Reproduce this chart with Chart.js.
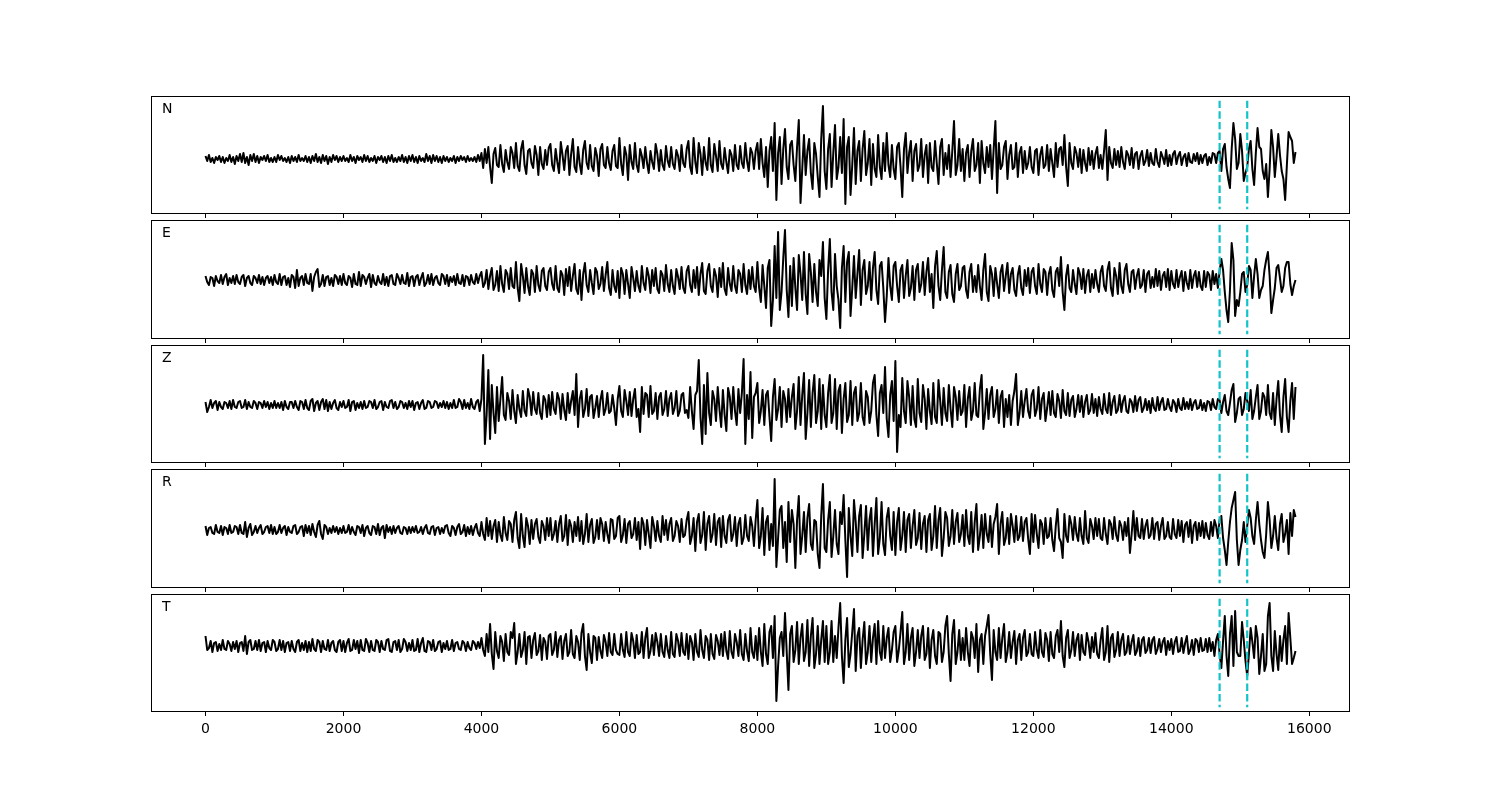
<!DOCTYPE html>
<html>
<head>
<meta charset="utf-8">
<script src="https://cdn.jsdelivr.net/npm/chart.js@4.4.1/dist/chart.umd.min.js"></script>
<style>
  body { margin: 0; background: #fff; }
  #wrap { position: relative; width: 1500px; height: 800px; background: #fff; }
  #wrap canvas { position: absolute; left: 0; }
</style>
</head>
<body>
<div id="wrap"></div>
<script>
// canales y datos (amplitud, una muestra cada 25)
const channels = ['N', 'E', 'Z', 'R', 'T'];
const sampleStep = 25;
const xTicks = [0, 2000, 4000, 6000, 8000, 10000, 12000, 14000, 16000];
const pickTimes = [14700, 15100];

const traceN = [
  3,-2,4,-3,1,-4,2,-1,3,-3, 2,-4,1,-2,4,-3,2,-5,3,-2, 5,-3,6,-4,2,-6,4,-2,5,-3, 3,-4,2,-1,3,-2,4,-3,1,-3,
  2,-3,4,-1,3,-2,1,-3,2,-4, 3,-2,2,-3,4,-2,1,-2,3,-3, 2,-4,3,-2,5,-3,2,-4,4,-2, 3,-5,2,-3,4,-1,3,-3,2,-2,
  3,-2,1,-3,4,-2,2,-4,3,-1, 2,-3,4,-2,3,-3,1,-2,3,-4, 2,-1,3,-3,2,-4,3,-2,4,-3, 1,-3,2,-2,4,-3,2,-4,3,-2,
  4,-3,2,-4,3,-2,1,-3,5,-2, 3,-4,4,-2,3,-3,2,-4,3,-2, 2,-3,1,-2,3,-4,2,-2,3,-1, 2,-3,3,-2,1,-2,2,-3,4,-2,
  6,-9,10,-4,12,-8,-24,5,11,-6, -8,14,-5,-13,9,-3,-10,12,6,-9, 16,-7,-12,10,18,-6,-15,8,10,-4, -9,13,4,-16,12,-5,-10,9,-6,11,
  15,-6,-12,10,-3,-14,17,4,-11,8, 13,-16,5,20,-8,-13,12,-5,-15,9, 18,-4,-10,14,-7,-12,11,3,-17,10, 15,-6,-9,12,-4,-11,8,14,-7,-9,
  21,-5,-16,12,4,-21,14,-3,-10,16, -6,-13,10,3,-9,12,-4,-14,8,-3, -10,15,5,-12,9,-6,-11,13,-2,-8, 12,-5,-10,9,3,-12,14,-4,-8,10,
  18,-8,-15,21,-3,-14,16,5,-16,12, -4,-11,21,-6,-13,15,3,-12,18,-5, -10,11,-3,-14,9,4,-12,14,-6,-10, 13,-4,-9,16,-2,-12,11,6,-10,8,
  16,-10,20,-4,-18,12,-28,8,22,-12, 36,-41,6,22,-25,10,30,-8,-20,14, 18,-6,-22,12,39,-44,-10,24,-16,8, 20,-14,-30,16,5,-18,-38,20,53,-12,
  -30,10,25,-28,6,34,-20,-8,22,-14, 40,-45,12,22,-36,-6,31,-25,8,18, -22,10,28,-16,-4,20,-26,15,-10,-18, 24,-8,-20,16,-12,26,-6,-18,14,-10,
  -20,12,16,-8,-38,10,26,-14,6,18, -22,8,15,-12,-6,20,-18,4,14,-24, 16,-8,-12,18,-4,-25,12,20,-16,6, -10,14,-18,8,38,-16,-6,20,-12,10,
  -22,6,14,-18,8,20,-12,-6,16,-24, 18,-4,-14,12,-8,14,-20,10,38,-34, 16,-10,-6,12,18,-20,4,14,-10,-8, 16,-18,6,12,-14,8,-10,-4,12,-8,
  -14,8,10,-16,4,12,-9,-6,14,-12, 10,-4,-18,16,-8,10,12,-6,24,-8, -27,16,-4,-10,12,6,-8,10,-14,9, -4,-12,11,-6,8,-10,5,12,-9,4,
  -10,8,29,-21,12,-4,-9,10,-6,8, -8,12,-3,-10,8,4,-6,11,-9,5, 7,-10,3,8,-6,-2,9,-7,6,-4, -6,10,-3,-8,7,2,-5,9,-7,4,
  -6,5,8,-5,3,7,-6,2,5,-7, 6,-3,-4,5,-2,6,-5,4,-4,3, 5,-6,2,-4,6,5,-4,6,8,-12, 10,15,-8,-20,-29,10,36,20,-10,-4,
  25,8,-22,-14,-8,10,18,-10,-26,6, 31,12,10,-12,-20,-5,-38,-10,29,12, -18,2,25,4,-12,-20,-41,-6,27,22, 18,-4,7
];

const traceE = [
  4,-2,-5,3,2,-6,4,-1,-3,5, -4,3,6,-5,2,-3,4,-4,5,-2, -4,3,5,-6,2,4,-3,-5,4,2, -3,5,-4,3,-5,2,4,-3,3,-5,
  5,-2,-4,6,-5,3,4,-5,2,-7, 5,3,-8,10,-6,2,4,-5,6,-3, -4,6,-11,3,8,11,-7,-4,5,-6, 3,4,-5,2,-6,5,3,-4,4,-5,
  6,-3,-5,4,2,-7,6,-4,-5,8, -6,5,3,-4,2,6,-7,5,-3,-5, 4,-2,-4,6,-5,3,-6,4,5,-4, -5,6,2,-4,5,-3,-4,7,-6,3,
  4,-6,3,5,-5,2,7,-6,-3,5, -4,6,-5,2,4,-3,-5,6,4,-4, 5,-6,3,-2,4,-5,6,-3,-4,5, -6,4,3,-5,5,-2,-4,6,-3,4,
  8,-7,-3,10,-9,4,12,-10,-5,9, -11,14,-4,-12,10,6,-9,12,-6,-8, 18,-8,-21,16,4,-13,12,-6,-15,10, 6,-12,14,-5,-11,9,12,-6,-10,8,
  12,-4,-10,14,-8,-12,9,5,-15,11, -6,13,-11,4,16,-9,-14,10,-20,6, 17,-5,-12,10,-3,-14,12,8,-9,-4, 13,-11,5,18,-8,-15,10,-6,-12,9,
  -18,12,6,-14,10,-4,-18,13,2,-11, 9,-6,-12,14,-3,-10,12,4,-13,10, -6,12,-9,-13,9,5,-11,15,-4,-12, 10,-6,-14,11,3,-9,13,-8,-13,9,
  14,-5,-12,10,-8,13,-15,6,17,-11, -14,9,16,-6,-12,11,4,-17,12,-7, 17,-9,-15,12,-4,-11,14,-6,-13,10, 6,-12,16,-5,-14,10,-9,13,-6,-12,
  18,-8,-22,15,-6,-28,12,20,-46,-20, 34,-18,48,-30,-12,22,50,-10,-37,14, -26,22,-8,-30,25,6,-20,28,-14,-34, 26,8,-22,16,-12,-26,20,4,38,-18,
  -39,10,41,-12,-30,26,-6,-20,-48,12, 34,-22,18,28,-36,-8,24,-18,6,30, -25,10,20,-14,-6,18,-20,12,28,-10, -24,14,18,-8,-42,-16,22,-6,-20,14,
  18,-6,-22,10,15,-18,4,20,-16,-8, 14,-20,10,16,-12,-4,18,-15,8,22, -12,6,-28,14,29,-6,-20,10,33,-12, -18,8,15,-14,-22,6,16,-10,-6,12,
  14,-10,-18,8,16,-12,4,-12,15,-6, -20,10,26,-12,-21,14,6,-16,12,-4, -18,8,15,-11,4,17,-13,6,12,-10, -16,5,14,-8,-15,10,-6,12,-13,8,
  12,-6,-14,16,-4,-12,11,8,-15,6, 13,-10,-17,8,12,-6,23,-12,-30,4, 15,-8,-12,10,-4,-14,12,6,-9,11, -13,4,10,-12,6,-8,10,-4,-12,8,
  14,-6,-11,10,18,-8,-16,12,4,-14, 17,-6,-13,10,16,-4,-12,8,10,-9, 4,11,-8,-5,10,-12,6,9,-8,3, -7,11,-6,9,-10,4,8,-7,11,-10,
  9,-4,-8,10,-7,3,9,-11,8,-3, -9,10,-8,4,9,-7,8,-6,-10,9, -7,8,5,-10,9,-4,6,-8,9,21, 10,-12,-30,-42,-10,37,20,-36,-20,-26,
  -12,6,8,-12,-5,14,10,-18,4,21, 6,-18,-10,-6,10,20,28,4,-33,-20, -8,12,15,2,-12,-6,12,18,18,-4, -15,-6,0
];

const traceZ = [
  3,-7,-2,5,-3,2,4,-5,3,-2, -4,3,2,-3,4,-4,5,-2,-3,3, 4,-3,-2,5,-4,3,-2,-3,4,2, -4,3,2,-3,4,-2,3,-4,2,-3,
  4,-3,2,-3,3,-5,4,-2,-4,3, 3,-3,4,-2,-5,4,3,-4,5,-3, -5,4,6,-6,2,4,-5,3,6,-4, 5,-6,3,-4,2,5,-3,-5,3,-2,
  4,-3,-2,5,-6,3,4,-5,2,-3, 3,-4,4,-3,-2,4,3,-3,5,-4, -2,3,4,-5,3,-2,-3,4,5,-3, 3,-4,-2,4,3,-3,2,-4,4,-2,
  4,-5,2,3,-4,2,5,-4,-3,4, 3,-3,-2,4,3,-3,2,-2,4,-3, 3,-4,2,-3,5,-3,-2,6,3,-4, 5,-3,2,-4,6,-2,-4,3,5,-6,
  6,50,-39,-10,35,-34,20,-8,-28,18, -16,6,28,-10,-15,12,4,-14,15,-6, -18,10,-4,-12,14,-6,-11,16,8,-10, 13,-4,-9,12,-8,-14,9,5,-12,10,
  -10,13,-4,-9,12,6,-14,11,-5,-15, 12,-8,4,14,-10,31,-22,6,14,-12, -4,16,-11,8,10,-13,-3,9,-12,5, 14,-10,-4,12,-8,-6,10,-3,-20,6,
  19,-6,-12,15,4,-10,13,-11,6,16, -12,-4,-27,18,-9,12,10,-12,19,-9, -6,12,-14,8,12,-10,-4,14,-11,6, 12,-9,-3,14,-11,-6,10,12,-8,-5,
  -13,18,-6,-24,10,14,45,-12,-39,20, -29,32,-8,-20,14,6,-16,18,-4,-22, 15,-10,-26,17,8,-14,18,-6,-20,16, -8,12,46,-39,10,-14,33,-33,8,12,
  22,-18,-6,15,-20,10,14,-12,-36,8, 26,-15,-4,18,-22,14,6,-17,16,-12, 8,21,-24,-6,28,-20,10,32,-34,-8, 25,-22,12,30,-18,-6,26,-24,20,-10,
  -22,12,30,-18,-8,26,-24,14,20,-28, 6,22,-17,-10,24,-20,12,18,-16,-8, 22,-12,-20,14,8,-18,-6,22,30,-10, -31,12,20,-8,38,-14,-32,10,24,-16,
  44,-47,-10,-22,27,-6,-18,24,8,-20, 19,-14,-22,26,-8,-17,20,6,-24,16, -6,-19,22,-12,-18,25,4,-20,17,-8, -16,20,-4,-22,18,8,-15,14,-10,-6,
  20,-22,6,18,-15,-6,22,-10,-12,16, 30,-24,-8,16,-14,10,18,-12,-4,15, -18,8,14,-22,6,-12,10,-20,4,14, 31,-20,-8,14,-12,4,16,-6,-13,10,
  15,-11,-4,18,-14,6,12,-16,-3,13, -10,14,-8,-12,11,4,-13,15,-6,-10, 12,-11,5,9,-12,-4,10,-7,9,-12, 3,10,-9,-5,11,-8,6,-11,8,-4,
  -9,11,-4,-8,12,-10,3,9,-8,-5, 10,-7,4,9,-6,-8,6,3,-7,9, -6,5,8,-7,-3,6,-5,4,-8,7, -3,-6,8,-5,3,7,-5,-4,6,-2,
  -6,5,2,-7,6,-3,-5,7,-4,3, -4,6,-5,2,5,-4,-3,5,-5,2, -6,4,3,-5,6,-2,-4,6,5,-8, 3,10,-6,-10,2,15,21,-17,-8,6,
  8,-10,-4,12,4,-6,15,-14,-6,8, 20,-14,-6,12,8,-10,20,-8,-14,12, -20,6,24,-10,-27,8,26,-12,-27,4, 22,-14,18
];

const traceR = [
  4,-5,2,3,-3,-4,5,-2,-3,4, -5,3,2,-4,5,-3,-2,4,3,-4, 5,-3,-4,8,-7,2,6,-5,-2,4, -3,2,5,-4,-2,3,4,-3,5,-4,
  3,-4,-2,5,-3,2,4,-5,3,-2, -3,4,5,-4,-2,3,4,-6,5,-3, 4,-5,6,-2,-7,5,9,-4,-9,5, 3,-4,2,-3,4,-2,3,-4,2,-3,
  4,-3,-2,5,-4,3,-2,-5,4,3, -3,5,-6,2,4,-3,-5,4,3,-4, 6,-5,2,4,-8,5,-2,3,-4,4, -3,2,4,-3,-4,3,2,-4,3,-3,
  3,-2,4,-3,-2,3,-4,2,5,-3, -4,3,4,-5,2,3,-4,2,-3,4, 5,-3,-6,4,2,-5,3,6,-4,-2, 5,-6,3,-4,4,-5,2,6,-3,-6,
  8,-4,-10,12,-6,9,-9,4,10,-12, 8,-5,-11,13,-3,-10,9,6,-12,10, 18,-8,-18,16,-6,-17,12,4,-14,10, -9,6,11,-7,-13,9,4,-10,12,-6,
  12,-10,-4,9,-12,6,14,-11,-6,15, -15,10,4,-12,8,-6,13,-11,9,-14, -4,16,-12,5,11,-13,-7,10,-9,12, 6,-11,8,-4,-13,11,10,-9,-6,12,
  14,-12,-5,11,-13,6,9,-8,-4,12, -10,8,-19,12,6,-15,10,-4,-18,13, 4,-11,9,-6,-12,14,-5,10,-10,6, 12,-11,-6,9,4,-12,11,-7,-5,10,
  18,-14,-6,12,-21,8,16,-13,-5,18, -20,6,14,-12,-4,16,-15,8,12,-17, 14,-6,-13,10,15,-11,-4,13,-16,6, 12,-14,-8,15,-6,-11,13,4,-16,10,
  30,-18,-6,22,-25,8,14,-20,6,-16, 51,-37,-8,20,24,-18,8,-32,28,-12, 20,6,-38,10,34,-24,-6,18,-22,12, 26,-14,-20,10,8,-24,-38,14,46,-18,
  -22,10,28,-27,-6,20,-14,-24,18,6, 35,-10,-47,22,-6,-26,30,8,-22,14, 25,-28,-4,24,-20,10,22,-26,6,32, -24,-8,28,-14,-25,12,22,-6,-20,18,
  -25,8,22,-20,-6,18,-22,10,16,-18, 4,20,-15,-8,17,-19,6,14,-22,10, 16,-20,-6,24,-18,10,22,-26,-8,18, 12,-16,-6,20,-14,8,17,-12,-4,15,
  -16,20,-6,-14,18,-22,8,26,-20,-6, 15,-18,16,-4,-12,14,-17,6,13,26, -24,6,18,-15,-8,12,-14,16,4,-12, 14,-10,-6,13,-11,8,12,-9,-24,16,
  -12,15,-4,-18,10,6,-14,12,-8,-6, 12,-10,-21,4,21,-8,-12,-28,16,-6, -12,14,6,-10,13,-4,-11,12,-6,-14, 19,-8,-13,11,4,-9,12,-6,11,-8,
  -10,12,-4,-14,10,6,-9,13,-5,-11, 9,4,-10,8,-6,12,-23,-4,19,-10, 12,-6,-8,11,-9,4,10,-8,-5,12, -9,6,8,-10,4,12,-9,-6,8,-7,
  -9,11,-4,-8,10,-6,9,-12,5,8, -7,10,-13,4,8,-10,7,-6,9,-8, 7,-5,-9,8,-6,10,4,-8,10,14, -8,-20,-35,-12,8,22,30,38,-10,-35,
  -20,-10,8,-12,4,20,12,-6,-14,10, 28,6,-10,-22,-28,-4,28,10,-18,-6, 14,-8,-20,6,16,-12,-4,10,-24,17, -6,20,13
];

const traceT = [
  10,-4,-2,5,-6,3,4,-5,2,-4, 6,-3,-4,5,2,-5,4,-3,5,-6, 3,4,-5,10,-8,4,6,-4,-3,5, -4,6,-5,3,4,-6,5,-2,-4,6,
  4,-5,-3,6,-4,5,-6,3,4,-5, 5,-3,-6,4,6,-5,3,-4,5,-6, 4,-5,7,-3,-5,6,4,-6,5,-3, -4,6,-5,3,5,-4,-6,4,6,-5,
  5,-6,3,7,-5,-4,6,-3,5,-7, 6,-4,-5,7,3,-6,5,-4,-5,6, 4,-6,5,-3,-4,6,7,-5,-6,4, 5,-4,6,-6,-3,7,4,-5,3,-4,
  6,-5,-4,7,-6,3,8,-5,-6,5, 4,-4,6,-5,-3,4,5,-6,3,-3, 5,-4,-3,6,-5,3,4,-3,-4,5, 3,-5,4,-2,-4,5,3,-3,4,-2,
  8,-4,-10,12,-6,22,-8,-23,14,-5, -12,10,4,-15,12,-6,-9,14,8,23, -18,-6,12,-11,-4,14,-18,9,10,-12, 6,13,-9,-5,11,-14,8,4,-13,10,
  12,-9,-4,14,-11,6,10,-13,5,12, -10,-6,16,-8,-12,10,4,-14,13,22, -10,-24,12,-6,-17,10,8,-14,9,-5, -12,11,4,-10,13,-6,-9,12,-4,-8,
  -9,12,-4,-11,14,-6,-10,13,5,-12, 11,-8,-6,14,-12,8,18,-12,-5,11, -9,13,4,-10,12,-6,-11,10,-4,-12, 14,-8,-11,12,5,-10,13,-6,-9,12,
  -13,10,4,-14,12,-6,-11,16,-4,-12, 10,6,-14,12,-8,-13,11,5,-9,12, -10,14,-5,-13,15,-6,-12,12,4,-10, 16,-8,-14,12,-5,-15,18,-6,-12,10,
  -14,18,-6,-20,22,-8,-18,14,20,-12, 30,-55,-20,8,14,-10,33,-6,-44,12, 20,-16,-4,24,-18,8,22,-15,-6,26, -20,10,28,-22,-8,20,-18,6,25,-16,
  20,-18,-6,25,-16,10,-12,18,43,-10, -37,6,28,-21,-8,14,37,-25,10,18, -22,6,24,-18,-6,20,-16,8,22,-18, 25,-6,-14,20,-12,8,18,-16,-4,14,
  20,-16,-4,14,34,-18,-6,22,-14,8, 18,-20,-6,16,-12,10,20,-14,-8,18, -22,6,16,-10,-18,14,12,-16,-6,20, 30,-8,-35,12,26,-18,-6,16,-14,8,
  -14,18,-6,-20,14,8,-12,22,-26,6, 12,-18,10,20,31,-8,-34,16,-6,-14, 18,-12,8,22,-16,-6,14,-12,4,15, -18,6,12,-14,8,16,-10,-6,12,-8,
  -10,14,-4,-12,16,-6,-11,13,6,-15, 14,-8,-12,10,16,-6,25,-10,-21,8, 16,-12,-4,14,-10,6,12,-14,11,-6, -9,13,4,-12,9,-6,13,-8,-12,6,
  18,-14,-6,20,-16,8,12,-11,-4,14, -10,6,12,-9,-6,10,-8,4,11,-9, -5,8,-10,6,9,-7,-4,8,-7,6, 9,-8,-3,7,-6,4,8,-9,5,-4,
  7,-8,4,9,-6,-5,8,-7,3,10, -8,-4,6,-9,7,5,-6,8,-5,-4, 7,-6,8,-5,4,-10,6,12,-8,-22, 5,30,-10,-30,12,30,-20,35,-6,-10,
  -10,24,6,-15,-30,-8,18,4,-12,20, 8,-28,-10,12,-25,-18,30,43,-10,-25, 15,-8,-24,10,-15,6,20,-18,33,8, -18,-12,-5
];

const traces = [traceN, traceE, traceZ, traceR, traceT];
const yLimits = [[-55, 63], [-59, 60], [-58, 60], [-58, 61], [-66, 52]];

// marco de cada panel (px)
const panelTops = [96, 220, 345, 469, 594];
const panelBottoms = [214, 339, 463, 588, 712];

const framePlugin = {
    id: 'frame',
    afterDatasetsDraw(chart, args, opts) {
        const { ctx, chartArea: a, scales } = chart;
        const h = a.bottom - a.top;
        ctx.save();
        // lineas de picado
        ctx.strokeStyle = '#12C3C9';
        ctx.lineWidth = 2.2;
        ctx.setLineDash([7.4, 3.2]);
        pickTimes.forEach(t => {
            const px = scales.x.getPixelForValue(t);
            ctx.beginPath();
            ctx.moveTo(px, a.top + h * 0.04);
            ctx.lineTo(px, a.bottom - h * 0.04);
            ctx.stroke();
        });
        ctx.setLineDash([]);
        // caja
        ctx.strokeStyle = '#000';
        ctx.lineWidth = 1;
        ctx.strokeRect(a.left + 0.5, a.top + 0.5, a.right - a.left - 1, h - 1);
        // nombre del canal
        ctx.fillStyle = '#000';
        ctx.font = '14px "DejaVu Sans"';
        ctx.textBaseline = 'alphabetic';
        ctx.fillText(opts.label, a.left + 11, a.top + 17);
        ctx.restore();
    }
};

function drawPanel(i) {
    const last = i === channels.length - 1;
    const canvas = document.createElement('canvas');
    const h = panelBottoms[i] - panelTops[i];
    const bottomSpace = last ? 30 : 6;
    canvas.width = 1500;
    canvas.height = 3 + h + bottomSpace;
    canvas.style.top = (panelTops[i] - 3) + 'px';
    document.getElementById('wrap').appendChild(canvas);

    const data = traces[i].map((v, k) => ({ x: k * sampleStep, y: v }));

    new Chart(canvas.getContext('2d'), {
        type: 'line',
        data: {
            datasets: [{
                data: data,
                borderColor: '#000',
                borderWidth: 2,
                borderJoinStyle: 'round',
                pointRadius: 0,
                fill: false,
                tension: 0
            }]
        },
        options: {
            responsive: false,
            animation: false,
            layout: { padding: { left: 151, right: 150, top: 3, bottom: last ? 0 : 1 } },
            scales: {
                x: {
                    type: 'linear',
                    min: -790,
                    max: 16590,
                    afterBuildTicks: s => { s.ticks = xTicks.map(v => ({ value: v })); },
                    afterFit: s => { s.height = last ? 30 : 5; },
                    grid: { drawOnChartArea: false, drawTicks: true, tickLength: 4, color: '#000', lineWidth: 1 },
                    border: { display: false },
                    ticks: {
                        display: last,
                        color: '#000',
                        font: { family: 'DejaVu Sans', size: 14 },
                        padding: 5,
                        maxRotation: 0,
                        autoSkip: false,
                        callback: v => String(v)
                    }
                },
                y: { display: false, min: yLimits[i][0], max: yLimits[i][1] }
            },
            plugins: {
                legend: { display: false },
                tooltip: { enabled: false },
                frame: { label: channels[i] }
            }
        },
        plugins: [framePlugin]
    });
}

channels.forEach((c, i) => drawPanel(i));
</script>
</body>
</html>
